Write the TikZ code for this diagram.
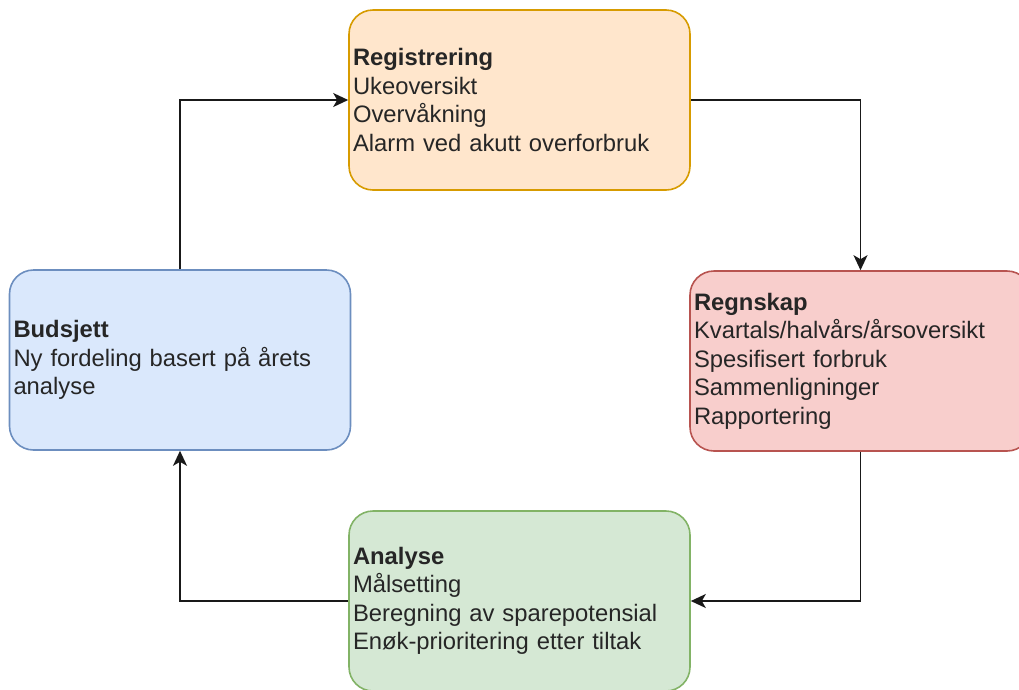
\documentclass[tikz,border=0pt]{standalone}
\usepackage{fontspec}
\setmainfont{Liberation Sans}
\usetikzlibrary{arrows.meta}
\definecolor{orangefill}{HTML}{FFE6CC}
\definecolor{orangeline}{HTML}{D79B00}
\definecolor{redfill}{HTML}{F8CECC}
\definecolor{redline}{HTML}{B85450}
\definecolor{greenfill}{HTML}{D5E8D4}
\definecolor{greenline}{HTML}{82B366}
\definecolor{bluefill}{HTML}{DAE8FC}
\definecolor{blueline}{HTML}{6C8EBF}
\definecolor{txt}{HTML}{262626}
\tikzset{
  phase/.style={draw, line width=1.6pt, rounded corners=24pt,
    minimum width=341pt, minimum height=180pt, inner sep=0pt,
    text width=333pt, align=left, text=txt,
    font=\fontsize{23.8pt}{28.5pt}\selectfont},
  flow/.style={draw=black!90, line width=1.8pt,
    -{Stealth[length=15pt,width=14pt,inset=4pt]}}
}
\begin{document}
\begin{tikzpicture}[x=1pt,y=-1pt]
  \useasboundingbox (0,0) rectangle (1019,689);
  \node[phase, fill=orangefill, draw=orangeline] (reg) at (519.5,100)
    {\textbf{Registrering}\\Ukeoversikt\\Overvåkning\\Alarm ved akutt overforbruk};
  \node[phase, fill=redfill, draw=redline] (rsk) at (860.5,361)
    {\textbf{Regnskap}\\Kvartals/halvårs/årsoversikt\\Spesifisert forbruk\\Sammenligninger\\Rapportering};
  \node[phase, fill=greenfill, draw=greenline] (ana) at (519.5,601)
    {\textbf{Analyse}\\Målsetting\\Beregning av sparepotensial\\Enøk-prioritering etter tiltak};
  \node[phase, fill=bluefill, draw=blueline] (bud) at (180,360)
    {\textbf{Budsjett}\\Ny fordeling basert på årets\\analyse};
  \draw[flow] (bud.north) |- (reg.west);
  \draw[flow] (reg.east) -| (rsk.north);
  \draw[flow] (rsk.south) |- (ana.east);
  \draw[flow] (ana.west) -| (bud.south);
\end{tikzpicture}
\end{document}
